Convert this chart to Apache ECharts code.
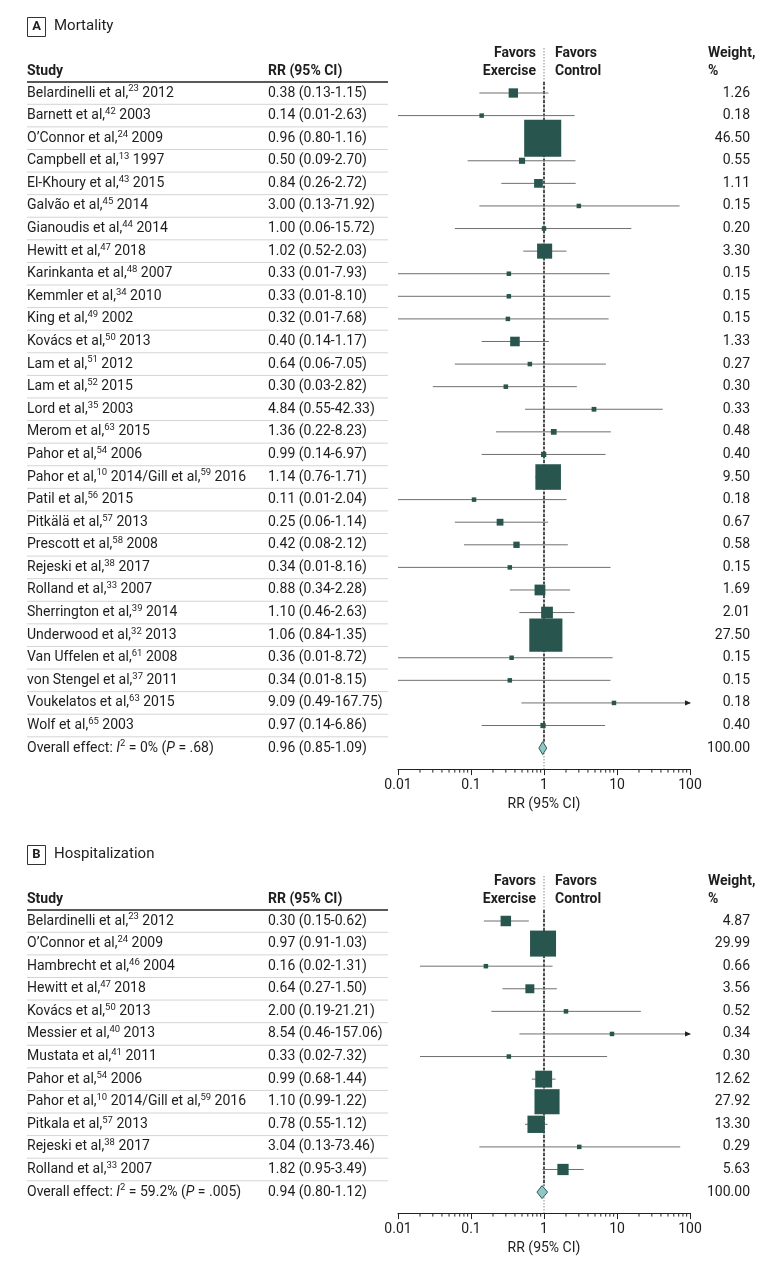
<!DOCTYPE html>
<html><head><meta charset="utf-8">
<script src="https://cdn.jsdelivr.net/npm/echarts@6/dist/echarts.min.js"></script>
<style>html,body{margin:0;padding:0;background:#fff}#c{width:780px;height:1268px}</style>
</head><body><div id="c"></div>
<script>
// ---------------- DATA ----------------
const studyA = [
 'Belardinelli et al,^23^ 2012','Barnett et al,^42^ 2003','O’Connor et al,^24^ 2009','Campbell et al,^13^ 1997',
 'El-Khoury et al,^43^ 2015','Galvão et al,^45^ 2014','Gianoudis et al,^44^ 2014','Hewitt et al,^47^ 2018',
 'Karinkanta et al,^48^ 2007','Kemmler et al,^34^ 2010','King et al,^49^ 2002','Kovács et al,^50^ 2013',
 'Lam et al,^51^ 2012','Lam et al,^52^ 2015','Lord et al,^35^ 2003','Merom et al,^63^ 2015',
 'Pahor et al,^54^ 2006','Pahor et al,^10^ 2014/Gill et al,^59^ 2016','Patil et al,^56^ 2015','Pitkälä et al,^57^ 2013',
 'Prescott et al,^58^ 2008','Rejeski et al,^38^ 2017','Rolland et al,^33^ 2007','Sherrington et al,^39^ 2014',
 'Underwood et al,^32^ 2013','Van Uffelen et al,^61^ 2008','von Stengel et al,^37^ 2011','Voukelatos et al,^63^ 2015',
 'Wolf et al,^65^ 2003','Overall effect: ~I~^2^ = 0% (~P~ = .68)'
];
const rrA = [0.38,0.14,0.96,0.50,0.84,3.00,1.00,1.02,0.33,0.33,0.32,0.40,0.64,0.30,4.84,1.36,0.99,1.14,0.11,0.25,0.42,0.34,0.88,1.10,1.06,0.36,0.34,9.09,0.97,0.96];
const loA = [0.13,0.01,0.80,0.09,0.26,0.13,0.06,0.52,0.01,0.01,0.01,0.14,0.06,0.03,0.55,0.22,0.14,0.76,0.01,0.06,0.08,0.01,0.34,0.46,0.84,0.01,0.01,0.49,0.14,0.85];
const hiA = [1.15,2.63,1.16,2.70,2.72,71.92,15.72,2.03,7.93,8.10,7.68,1.17,7.05,2.82,42.33,8.23,6.97,1.71,2.04,1.14,2.12,8.16,2.28,2.63,1.35,8.72,8.15,167.75,6.86,1.09];
const wA  = [1.26,0.18,46.50,0.55,1.11,0.15,0.20,3.30,0.15,0.15,0.15,1.33,0.27,0.30,0.33,0.48,0.40,9.50,0.18,0.67,0.58,0.15,1.69,2.01,27.50,0.15,0.15,0.18,0.40,100.00];

const studyB = [
 'Belardinelli et al,^23^ 2012','O’Connor et al,^24^ 2009','Hambrecht et al,^46^ 2004','Hewitt et al,^47^ 2018',
 'Kovács et al,^50^ 2013','Messier et al,^40^ 2013','Mustata et al,^41^ 2011','Pahor et al,^54^ 2006',
 'Pahor et al,^10^ 2014/Gill et al,^59^ 2016','Pitkala et al,^57^ 2013','Rejeski et al,^38^ 2017','Rolland et al,^33^ 2007',
 'Overall effect: ~I~^2^ = 59.2% (~P~ = .005)'
];
const rrB = [0.30,0.97,0.16,0.64,2.00,8.54,0.33,0.99,1.10,0.78,3.04,1.82,0.94];
const loB = [0.15,0.91,0.02,0.27,0.19,0.46,0.02,0.68,0.99,0.55,0.13,0.95,0.80];
const hiB = [0.62,1.03,1.31,1.50,21.21,157.06,7.32,1.44,1.22,1.12,73.46,3.49,1.12];
const wB  = [4.87,29.99,0.66,3.56,0.52,0.34,0.30,12.62,27.92,13.30,0.29,5.63,100.00];

const panelLetters = ['A','B'];
const panelTitles = ['Mortality','Hospitalization'];
const tickValues = [0.01,0.1,1,10,100];
const tickLabels = ['0.01','0.1','1','10','100'];
const minorMultipliers = [2,3,4,5,6,7,8,9];

// ---------------- LAYOUT / STYLE ----------------
const FONT = 'Roboto, "Noto Sans", sans-serif';
const TXT = '#1e1e1e';
const SQ = '#28564f';
const PITCH = 22.59;
const XMIN = 0.01, XMAX = 100;
const GL = 398, GW = 292;
const panels = [
  {study: studyA, rr: rrA, lo: loA, hi: hiA, w: wA, dy: 0,
   size: w => Math.max(4.5, Math.min(8.3*Math.sqrt(w), 20 + 2.5*Math.sqrt(w)))},
  {study: studyB, rr: rrB, lo: loB, hi: hiB, w: wB, dy: 828,
   size: w => Math.max(4.5, 4.75*Math.sqrt(w))}
];
const minorTicks = [];
for (let e = -2; e < 2; e++) minorMultipliers.forEach(m => minorTicks.push(m * Math.pow(10, e)));

function richTokens(s) {
  const parts = s.split(/(\^[^^]+\^|~[^~]+~)/).filter(p => p.length);
  return parts.map(p => {
    if (p[0] === '^') return '{sup|' + p.slice(1, -1) + '}';
    if (p[0] === '~') return '{it|' + p.slice(1, -1) + '}';
    return '{n|' + p + '}';
  }).join('');
}
const RICH = {
  n: {fontSize: 14, fontFamily: FONT, color: TXT, fill: TXT, lineHeight: 18},
  it: {fontSize: 14, fontFamily: FONT, fontStyle: 'italic', color: TXT, fill: TXT, lineHeight: 18},
  sup: {fontSize: 9.5, fontFamily: FONT, color: TXT, fill: TXT, lineHeight: 10, verticalAlign: 'top'}
};
const fmt = v => v.toFixed(2);

const grids = [], xAxes = [], yAxes = [], series = [], graphics = [];
panels.forEach((P, pi) => {
  const n = P.study.length;
  const firstRow = 93 + P.dy;
  const gTop = 45 + P.dy;
  const gBot = firstRow + (n - 1) * PITCH + 21;
  const yMin = (gTop - firstRow) / PITCH, yMax = (gBot - firstRow) / PITCH;
  grids.push({left: GL, width: GW, top: gTop, height: gBot - gTop});
  xAxes.push({
    type: 'log', logBase: 10, min: XMIN, max: XMAX, gridIndex: pi, position: 'bottom',
    axisLine: {show: true, onZero: false, lineStyle: {color: '#222', width: 1}},
    axisTick: {show: true, length: 6, lineStyle: {color: '#222', width: 1}},
    axisLabel: {fontSize: 14, color: TXT, fontFamily: FONT, margin: 9,
      formatter: v => tickLabels[tickValues.findIndex(t => Math.abs(Math.log10(t) - Math.log10(v)) < 1e-6)] || ''},
    splitLine: {show: false}, minorTick: {show: false},
    name: 'RR (95% CI)', nameLocation: 'middle', nameGap: 28,
    nameTextStyle: {fontSize: 14, color: TXT, fontFamily: FONT}
  });
  yAxes.push({type: 'value', gridIndex: pi, inverse: true, min: yMin, max: yMax, show: false});

  const ax = {xAxisIndex: pi, yAxisIndex: pi};
  // reference line (dotted full, dashed over rows)
  series.push(Object.assign({type: 'line', silent: true, symbol: 'none', z: 1,
    lineStyle: {color: '#8a8a8a', width: 1, type: [1.5, 1.5]},
    data: [[1, (48 - 93) / PITCH], [1, yMax]]}, ax));
  series.push(Object.assign({type: 'line', silent: true, symbol: 'none', z: 2,
    lineStyle: {color: '#111', width: 1.4, type: [3, 1.5]},
    data: [[1, (82 - 93) / PITCH], [1, (n - 1) - 6.5 / PITCH]]}, ax));
  // CI lines
  series.push(Object.assign({
    type: 'custom', z: 3, silent: true,
    data: P.study.slice(0, n - 1).map((_, i) => [i, P.lo[i], P.hi[i]]),
    renderItem: (params, api) => {
      const i = api.value(0), lo = api.value(1), hi = api.value(2);
      const y = api.coord([1, i])[1];
      const x1 = api.coord([Math.max(lo, XMIN), i])[0];
      const x2 = api.coord([Math.min(hi, XMAX), i])[0];
      const ch = [{type: 'line', shape: {x1, y1: y, x2, y2: y}, style: {stroke: '#6f6f6f', lineWidth: 1}}];
      if (hi > XMAX) ch.push({type: 'polygon', shape: {points: [[x2 + 1, y], [x2 - 5, y - 2.6], [x2 - 5, y + 2.6]]}, style: {fill: '#222'}});
      return {type: 'group', children: ch};
    }
  }, ax));
  // squares
  series.push(Object.assign({
    type: 'scatter', z: 4, silent: true, symbol: 'rect',
    data: P.study.slice(0, n - 1).map((_, i) => [P.rr[i], i, P.w[i]]),
    symbolSize: v => P.size(v[2]),
    itemStyle: {color: SQ, opacity: 1}
  }, ax));
  // overall diamond
  series.push(Object.assign({
    type: 'custom', z: 5, silent: true,
    data: [[n - 1, P.lo[n - 1], P.rr[n - 1], P.hi[n - 1]]],
    renderItem: (params, api) => {
      const i = api.value(0);
      const y = api.coord([1, i])[1];
      const xl = api.coord([api.value(1), i])[0], xc = api.coord([api.value(2), i])[0], xr = api.coord([api.value(3), i])[0];
      return {type: 'polygon', shape: {points: [[xl, y], [xc, y - 6.5], [xr, y], [xc, y + 6.5]]},
        style: {fill: '#8fc7c3', stroke: '#2d5b56', lineWidth: 1}};
    }
  }, ax));
  // minor ticks
  series.push(Object.assign({
    type: 'custom', z: 6, silent: true,
    data: minorTicks.map(v => [v]),
    renderItem: (params, api) => {
      const p = api.coord([api.value(0), yMax]);
      return {type: 'line', shape: {x1: p[0], y1: p[1], x2: p[0], y2: p[1] + 3.5}, style: {stroke: '#222', lineWidth: 1}};
    }
  }, ax));
  // table texts + separators
  series.push(Object.assign({
    type: 'custom', z: 7, silent: true,
    data: P.study.map((_, i) => [1, i]),
    renderItem: (params, api) => {
      const i = api.value(1);
      const y = api.coord([1, i])[1];
      const ch = [
        {type: 'text', style: {text: richTokens(P.study[i]), x: 27, y: y, rich: RICH,
          align: 'left', verticalAlign: 'middle', textAlign: 'left', textVerticalAlign: 'middle'}},
        {type: 'text', style: {text: fmt(P.rr[i]) + ' (' + fmt(P.lo[i]) + '-' + fmt(P.hi[i]) + ')', x: 268, y: y,
          font: '14px ' + FONT, fill: TXT, align: 'left', verticalAlign: 'middle', textAlign: 'left', textVerticalAlign: 'middle'}},
        {type: 'text', style: {text: fmt(P.w[i]), x: 750, y: y,
          font: '14px ' + FONT, fill: TXT, align: 'right', verticalAlign: 'middle', textAlign: 'right', textVerticalAlign: 'middle'}}
      ];
      if (i < n - 1) ch.push({type: 'line', shape: {x1: 27, y1: y + PITCH / 2, x2: 388, y2: y + PITCH / 2},
        style: {stroke: '#d4d4d4', lineWidth: 1}});
      return {type: 'group', children: ch};
    }
  }, ax));

  // headers
  const dy = P.dy;
  const T = (text, x, y, opt) => Object.assign({type: 'text', style: Object.assign({text, x, y, fill: TXT,
    font: '14px ' + FONT, align: 'left', verticalAlign: 'middle', textAlign: 'left', textVerticalAlign: 'middle'}, opt || {})});
  graphics.push({type: 'rect', shape: {x: 27.5, y: 17.5 + dy, width: 18, height: 19}, style: {fill: 'none', stroke: '#333', lineWidth: 1}});
  graphics.push(T(panelLetters[pi], 36.5, 27 + dy, {font: 'bold 13px ' + FONT, align: 'center', textAlign: 'center'}));
  graphics.push(T(panelTitles[pi], 54, 26.5 + dy, {font: '15px ' + FONT}));
  graphics.push(T('Study', 27, 71 + dy, {font: 'bold 14px ' + FONT}));
  graphics.push(T('RR (95% CI)', 268, 71 + dy, {font: 'bold 14px ' + FONT}));
  graphics.push(T('Favors', 536, 53 + dy, {font: 'bold 14px ' + FONT, align: 'right', textAlign: 'right'}));
  graphics.push(T('Exercise', 536, 71 + dy, {font: 'bold 14px ' + FONT, align: 'right', textAlign: 'right'}));
  graphics.push(T('Favors', 555, 53 + dy, {font: 'bold 14px ' + FONT}));
  graphics.push(T('Control', 555, 71 + dy, {font: 'bold 14px ' + FONT}));
  graphics.push(T('Weight,', 708, 53 + dy, {font: 'bold 14px ' + FONT}));
  graphics.push(T('%', 708, 71 + dy, {font: 'bold 14px ' + FONT}));
  graphics.push({type: 'line', shape: {x1: 27, y1: 82 + dy, x2: 388, y2: 82 + dy}, style: {stroke: '#222', lineWidth: 1.5}});
});

const chart = echarts.init(document.getElementById('c'));
chart.setOption({
  animation: false,
  backgroundColor: '#fff',
  textStyle: {fontFamily: FONT},
  grid: grids, xAxis: xAxes, yAxis: yAxes, series: series, graphic: graphics
});
</script></body></html>
